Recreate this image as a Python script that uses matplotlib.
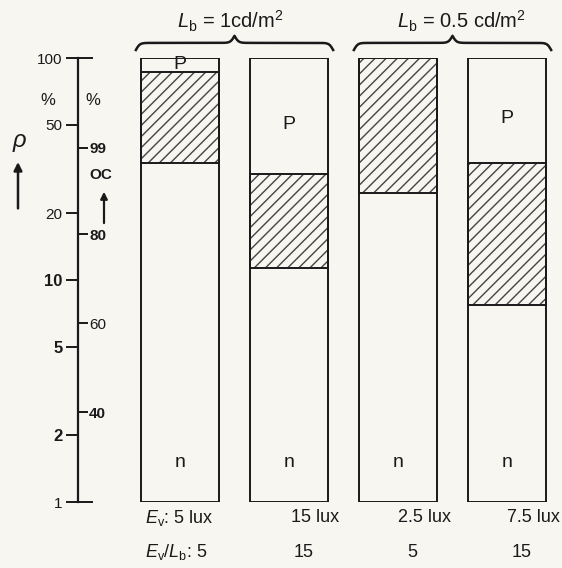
import numpy as np
import matplotlib
matplotlib.use("Agg")
import matplotlib.pyplot as plt
from matplotlib.ticker import NullLocator, NullFormatter

plt.rcParams['font.family'] = ['Liberation Sans', 'DejaVu Sans']
plt.rcParams['mathtext.fontset'] = 'custom'
plt.rcParams['mathtext.rm'] = 'Liberation Sans'
plt.rcParams['mathtext.it'] = 'Liberation Sans:italic'
plt.rcParams['hatch.linewidth'] = 1.0

# donnees (pourcentages, echelle log)
groups = [r'$L_{\mathrm{b}}$ = 1cd/m$^2$', r'$L_{\mathrm{b}}$ = 0.5 cd/m$^2$']
group_of_bar = [0, 0, 1, 1]
ev_labels = ['5 lux', '15 lux', '2.5 lux', '7.5 lux']
ratio_labels = ['5', '15', '5', '15']
n_top = [33.7, 11.3, 24.7, 7.7]        # limite haute de la zone n
p_bottom = [86.5, 30.0, 100.0, 33.7]   # limite basse de la zone P
p_ticks = [1, 2, 5, 10, 20, 50, 100]
p_bold = [False, True, True, True, False, False, False]
oc_pos = [39.4, 16.1, 6.4, 2.54]
oc_labels = ['99', '80', '60', '40']
oc_bold = [True, True, False, True]

bg = '#f7f6f1'
ink = '#1a1a1a'
W, H = 562, 568

fig = plt.figure(figsize=(W / 100, H / 100), dpi=100, facecolor=bg)
ax = fig.add_axes([0, 66 / H, 1, 444 / H])
ax.set_facecolor(bg)
ax.set_yscale('log')
ax.set_ylim(1, 100)
ax.set_xlim(-180 / 109, (W - 180) / 109)

x = np.arange(len(n_top))
width = 0.71
n_top = np.array(n_top)
p_bottom = np.array(p_bottom)

# zone hachuree (incertaine)
ax.bar(x, p_bottom - n_top, bottom=n_top, width=width, color='none',
       edgecolor='#444444', linewidth=0, hatch='///')
ax.bar(x, p_bottom - n_top, bottom=n_top, width=width, fill=False,
       edgecolor=ink, linewidth=1.4)
# cadre de chaque barre
ax.bar(x, 99, bottom=1, width=width, fill=False, edgecolor=ink, linewidth=1.4)

for i in x:
    if p_bottom[i] < 100:
        y_lab = np.sqrt(p_bottom[i] * 100)
        if p_bottom[i] < 60:
            y_lab *= 0.92
        ax.text(i, y_lab, 'P', ha='center', va='center', fontsize=14,
                color=ink)
    ax.text(i, 1.5, 'n', ha='center', va='center', fontsize=14, color=ink)

# axe gauche
axis_x = (78 - 180) / 109
for s in ['top', 'right', 'bottom']:
    ax.spines[s].set_visible(False)
ax.spines['left'].set_position(('data', axis_x))
ax.spines['left'].set_linewidth(1.6)
ax.spines['left'].set_color(ink)
ax.set_xticks([])
ax.yaxis.set_minor_locator(NullLocator())
ax.set_yticks(p_ticks)
ax.set_yticklabels([str(t) for t in p_ticks])
ax.tick_params(axis='y', length=9, width=1.4, labelsize=11, pad=2, colors=ink)
for lab, b in zip(ax.get_yticklabels(), p_bold):
    if b:
        lab.set_fontweight('bold')
        lab.set_fontsize(12)

# echelle OC sur le cote droit du meme axe
sec = ax.secondary_yaxis(78 / W, functions=(lambda v: v, lambda v: v))
sec.spines['right'].set_visible(False)
sec.spines['left'].set_visible(False)
sec.yaxis.set_ticks_position('right')
sec.yaxis.set_minor_locator(NullLocator())
sec.set_yticks(oc_pos)
sec.set_yticklabels(oc_labels)
sec.set_yticks([1, 100], minor=True)
sec.yaxis.set_minor_formatter(NullFormatter())
sec.tick_params(axis='y', which='both', left=False, labelleft=False,
                right=True, labelright=True)
sec.tick_params(axis='y', which='major', length=7, width=1.4, labelsize=11,
                pad=1, colors=ink)
sec.tick_params(axis='y', which='minor', length=11, width=1.4, colors=ink)
for lab, b in zip(sec.get_yticklabels(), oc_bold):
    if b:
        lab.set_fontweight('bold')

tr = ax.get_xaxis_transform()
ax.text((48 - 180) / 109, 0.905, '%', transform=tr, ha='center', va='center',
        fontsize=12, color=ink)
ax.text((93 - 180) / 109, 0.905, '%', transform=tr, ha='center', va='center',
        fontsize=12, color=ink)
ax.text((20 - 180) / 109, 0.809, r'$\rho$', transform=tr, ha='center',
        va='center', fontsize=17, color=ink)
ax.annotate('', xy=((18 - 180) / 109, 0.772), xytext=((18 - 180) / 109, 0.655),
            xycoords=tr, textcoords=tr,
            arrowprops=dict(arrowstyle='-|>', lw=1.8, color=ink,
                            mutation_scale=12))
ax.text((101 - 180) / 109, 0.736, 'OC', transform=tr, ha='center',
        va='center', fontsize=11, fontweight='bold', color=ink)
ax.annotate('', xy=((104 - 180) / 109, 0.705), xytext=((104 - 180) / 109, 0.622),
            xycoords=tr, textcoords=tr,
            arrowprops=dict(arrowstyle='-|>', lw=1.6, color=ink,
                            mutation_scale=10))


# accolades au-dessus des groupes
def brace(x0, x1, beta=55, n=401):
    xs = np.linspace(x0, x1, n)
    half = xs[:n // 2 + 1]
    yh = (1 / (1 + np.exp(-beta * (half - half[0])))
          + 1 / (1 + np.exp(-beta * (half - half[-1]))))
    ys = np.concatenate((yh, yh[-2::-1]))
    return xs, 1.002 + 0.032 * ys


for g, name in enumerate(groups):
    idx = [i for i in x if group_of_bar[i] == g]
    x0 = min(idx) - width / 2 - 0.05
    x1 = max(idx) + width / 2 + 0.05
    bx, by = brace(x0, x1)
    ax.plot(bx, by, color=ink, lw=1.8, transform=tr, clip_on=False)
    ax.text((x0 + x1) / 2 - 0.04 + 0.12 * g, 1.082, name, transform=tr,
            ha='center', va='center', fontsize=14.5, color=ink)

# legendes sous les barres
for i in x:
    if i == 0:
        ax.text(-0.32, -0.036, r'$E_{\mathrm{v}}$: ' + ev_labels[i],
                transform=tr, ha='left', va='center', fontsize=13, color=ink)
        ax.text(-0.32, -0.113,
                r'$E_{\mathrm{v}}$/$L_{\mathrm{b}}$: ' + ratio_labels[i],
                transform=tr, ha='left', va='center', fontsize=13, color=ink)
    else:
        ax.text(i + 0.24, -0.036, ev_labels[i], transform=tr, ha='center',
                va='center', fontsize=13, color=ink)
        ax.text(i + 0.13, -0.113, ratio_labels[i], transform=tr, ha='center',
                va='center', fontsize=13, color=ink)

fig.savefig('out.png', dpi=100, facecolor=bg)
